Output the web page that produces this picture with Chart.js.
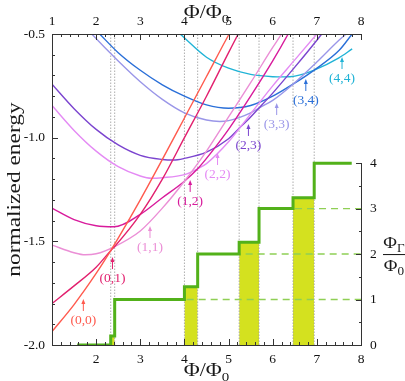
<!DOCTYPE html>
<html>
<head>
<meta charset="utf-8">
<script src="https://cdn.jsdelivr.net/npm/chart.js@4.4.1/dist/chart.umd.min.js"></script>
<style>
  html, body { margin: 0; padding: 0; background: #fff; }
</style>
</head>
<body>
<canvas id="energy-canvas" width="405" height="381"></canvas>
<script>
// energy levels (flux in units of Phi0)
const phi00 = [1, 1.5, 2, 2.33, 2.5, 3, 3.5, 4, 4.5, 5, 5.2];
const en00  = [-1.935, -1.805, -1.655, -1.545, -1.485, -1.3, -1.105, -0.905, -0.705, -0.505, -0.43];
const phi01 = [1, 1.5, 2, 2.33, 2.42, 3, 3.5, 4, 4.5, 5, 5.22, 5.4];
const en01  = [-1.8, -1.715, -1.625, -1.545, -1.525, -1.37, -1.2, -1.0, -0.8, -0.59, -0.5, -0.43];
const phi11 = [1, 1.5, 1.75, 2, 2.42, 3, 3.5, 4, 4.5, 5, 5.5, 6, 6.2, 6.4];
const en11  = [-1.518, -1.555, -1.565, -1.56, -1.525, -1.45, -1.34, -1.21, -1.065, -0.9, -0.735, -0.565, -0.5, -0.43];
const phi12 = [1, 1.5, 2, 2.4, 3, 3.5, 4, 4.3, 4.5, 5, 5.5, 6, 6.35, 6.5];
const en12  = [-1.34, -1.395, -1.425, -1.43, -1.37, -1.29, -1.21, -1.15, -1.1, -0.96, -0.8, -0.63, -0.5, -0.44];
const phi22 = [1, 1.5, 2, 2.5, 3, 3.25, 3.5, 4, 4.3, 4.5, 5, 5.5, 6, 6.5, 7, 7.2];
const en22  = [-0.845, -0.965, -1.065, -1.14, -1.185, -1.196, -1.193, -1.178, -1.15, -1.125, -1.02, -0.885, -0.75, -0.625, -0.5, -0.45];
const phi23 = [1, 1.5, 2, 2.5, 3, 3.5, 3.75, 4, 4.5, 5, 5.24, 5.5, 5.69, 6, 6.5, 7, 7.11, 7.3];
const en23  = [-0.742, -0.86, -0.96, -1.035, -1.085, -1.105, -1.108, -1.1, -1.07, -1.005, -0.955, -0.9, -0.857, -0.785, -0.66, -0.53, -0.5, -0.45];
const phi33 = [1.6, 1.9, 2.5, 3, 3.5, 4, 4.5, 4.8, 5, 5.5, 5.69, 6, 6.46, 7, 7.5, 7.66, 7.8];
const en33  = [-0.43, -0.5, -0.63, -0.73, -0.815, -0.88, -0.915, -0.922, -0.918, -0.88, -0.857, -0.82, -0.742, -0.635, -0.53, -0.5, -0.47];
const phi34 = [1.8, 2.08, 2.5, 3, 3.5, 4, 4.5, 5, 5.5, 6, 6.46, 6.94, 7.5, 7.8];
const en34  = [-0.44, -0.5, -0.59, -0.675, -0.745, -0.8, -0.842, -0.858, -0.845, -0.8, -0.742, -0.674, -0.58, -0.5];
const phi44 = [3.5, 3.9, 4.5, 5, 5.5, 6, 6.25, 6.5, 6.94, 7.5, 7.8];
const en44  = [-0.43, -0.5, -0.612, -0.665, -0.695, -0.706, -0.707, -0.703, -0.674, -0.615, -0.572];

// ground state flux Phi_Gamma / Phi0 (right axis)
const stepPhi = [1.57, 2.33, 2.33, 2.42, 2.42, 4.0, 4.0, 4.3, 4.3, 5.24, 5.24, 5.69, 5.69, 6.46, 6.46, 6.94, 6.94, 7.79];
const stepVal = [0, 0, 0.2, 0.2, 1, 1, 1.28, 1.28, 2, 2, 2.26, 2.26, 3, 3, 3.24, 3.24, 4, 4];

const crossingPhi = [2.33, 2.42, 4.0, 4.3, 5.24, 5.69, 6.46, 6.94];
const bandStart = [2.33, 4.0, 5.24, 6.46];
const bandEnd = [2.42, 4.3, 5.69, 6.94];
const bandHeight = [0.2, 1.28, 2.26, 3.24];
const levelValue = [1, 2, 3];
const levelFrom = [2.42, 4.3, 5.69];

const stateNames = ['(0,0)', '(0,1)', '(1,1)', '(1,2)', '(2,2)', '(2,3)', '(3,3)', '(3,4)', '(4,4)'];
const arrowPhi = [1.71, 2.37, 3.22, 4.13, 4.75, 5.45, 6.09, 6.75, 7.57];
const arrowEn = [-1.778, -1.576, -1.426, -1.204, -1.074, -0.934, -0.833, -0.717, -0.611];

const stateColors = ['#ff5a4e', '#e2206e', '#eb8fd6', '#d81b9c', '#e48af4', '#7b44cf', '#9a96e8', '#2a6fd8', '#20b3d6'];
const SERIF = "'Liberation Serif', 'DejaVu Serif', serif";

function pointsFrom(xs, ys) {
   let pts = [];
   for (let i = 0; i < xs.length; i++) pts.push({ x: xs[i], y: ys[i] });
   return pts;
}

const curves = [[phi00, en00], [phi01, en01], [phi11, en11], [phi12, en12], [phi22, en22],
                [phi23, en23], [phi33, en33], [phi34, en34], [phi44, en44]];

let datasets = [];

curves.forEach((c, i) => {
   datasets.push({
      data: pointsFrom(c[0], c[1]),
      borderColor: stateColors[i], borderWidth: 1.4,
      cubicInterpolationMode: 'monotone',
      xAxisID: 'x', yAxisID: 'y', order: 2
   });
});

// dotted lines at the level crossings
for (const p of crossingPhi) {
   datasets.push({
      data: [{ x: p, y: -2 }, { x: p, y: -0.5 }],
      borderColor: '#999', borderWidth: 0.8, borderDash: [1.5, 1.5],
      xAxisID: 'x', yAxisID: 'y', order: 6
   });
}

// yellow bands where the mixed state is the ground state
bandStart.forEach((s, i) => {
   datasets.push({
      data: [{ x: s, y: bandHeight[i] }, { x: bandEnd[i], y: bandHeight[i] }],
      borderWidth: 0, borderColor: 'rgba(0,0,0,0)',
      backgroundColor: '#d4e11f', fill: 'origin',
      xAxisID: 'x', yAxisID: 'y2', order: 7
   });
});

// dashed guide lines at integer flux
levelValue.forEach((v, i) => {
   datasets.push({
      data: [{ x: levelFrom[i], y: v }, { x: 8, y: v }],
      borderColor: '#8fcf55', borderWidth: 1.4, borderDash: [7, 5],
      xAxisID: 'x', yAxisID: 'y2', order: 4
   });
});

datasets.push({
   data: pointsFrom(stepPhi, stepVal),
   borderColor: '#52b11a', borderWidth: 3, tension: 0,
   borderJoinStyle: 'miter', borderCapStyle: 'butt',
   xAxisID: 'x', yAxisID: 'y2', order: 0
});

function isInt(v) { return Math.abs(v - Math.round(v)) < 1e-6; }

// main text with a lowered small index, optionally widened
function drawSub(ctx, main, sub, x, y, size, sx) {
   ctx.save();
   ctx.font = size + 'px ' + SERIF;
   const wMain = ctx.measureText(main).width;
   ctx.font = Math.round(size * 0.7) + 'px ' + SERIF;
   const wSub = ctx.measureText(sub).width;
   ctx.translate(x, y);
   ctx.scale(sx, 1);
   const x0 = -(wMain + wSub) / 2;
   ctx.textAlign = 'left';
   ctx.textBaseline = 'alphabetic';
   ctx.font = size + 'px ' + SERIF;
   ctx.fillText(main, x0, 0);
   ctx.font = Math.round(size * 0.7) + 'px ' + SERIF;
   ctx.fillText(sub, x0 + wMain, size * 0.25);
   ctx.restore();
}

const framePlugin = {
   id: 'frame',
   afterDatasetsDraw(chart) {
      const { ctx, chartArea: a, scales } = chart;
      const top4 = scales.y2.getPixelForValue(4);
      ctx.save();
      ctx.strokeStyle = '#333';
      ctx.lineWidth = 1;
      ctx.beginPath();
      ctx.moveTo(a.left + 0.5, a.top + 0.5); ctx.lineTo(a.left + 0.5, a.bottom + 0.5);
      ctx.lineTo(a.right + 0.5, a.bottom + 0.5); ctx.lineTo(a.right + 0.5, top4);
      ctx.moveTo(a.left + 0.5, a.top + 0.5); ctx.lineTo(a.right + 0.5, a.top + 0.5);
      // x ticks, top and bottom
      for (let k = 0; k <= 35; k++) {
         const v = 1 + k * 0.2;
         const px = Math.round(scales.x.getPixelForValue(v)) + 0.5;
         const len = isInt(v) ? 6 : 3;
         ctx.moveTo(px, a.bottom); ctx.lineTo(px, a.bottom - len);
         ctx.moveTo(px, a.top); ctx.lineTo(px, a.top + len);
      }
      // left ticks
      for (let k = 0; k <= 15; k++) {
         const v = -2 + k * 0.1;
         const py = Math.round(scales.y.getPixelForValue(v)) + 0.5;
         const len = isInt(v * 2) ? 6 : 3;
         ctx.moveTo(a.left, py); ctx.lineTo(a.left + len, py);
      }
      // right ticks
      for (let k = 0; k <= 8; k++) {
         const v = k * 0.5;
         const py = Math.round(scales.y2.getPixelForValue(v)) + 0.5;
         const len = isInt(v) ? 6 : 3;
         ctx.moveTo(a.right + 1, py); ctx.lineTo(a.right + 1 - len, py);
      }
      ctx.stroke();

      // state labels with small arrows
      ctx.font = '13.5px ' + SERIF;
      ctx.textAlign = 'center';
      ctx.textBaseline = 'middle';
      stateNames.forEach((name, i) => {
         const x = scales.x.getPixelForValue(arrowPhi[i]);
         const y = scales.y.getPixelForValue(arrowEn[i]);
         ctx.strokeStyle = stateColors[i];
         ctx.fillStyle = stateColors[i];
         ctx.lineWidth = 1;
         ctx.beginPath();
         ctx.moveTo(x, y + 12); ctx.lineTo(x, y + 3);
         ctx.stroke();
         ctx.beginPath();
         ctx.moveTo(x, y); ctx.lineTo(x - 2, y + 5); ctx.lineTo(x + 2, y + 5); ctx.closePath();
         ctx.fill();
         ctx.fillText(name, x, y + 21);
      });

      // axis titles
      ctx.fillStyle = '#1a1a1a';
      const cx = (a.left + a.right) / 2;
      drawSub(ctx, '\u03A6/\u03A6', '0', cx, 18, 19, 1.15);
      drawSub(ctx, '\u03A6/\u03A6', '0', cx, 376, 19, 1.15);

      ctx.save();
      ctx.translate(15, (a.top + a.bottom) / 2);
      ctx.rotate(-Math.PI / 2);
      ctx.scale(1.3, 1);
      ctx.font = '18px ' + SERIF;
      ctx.textAlign = 'center';
      ctx.textBaseline = 'middle';
      ctx.fillText('normalized energy', 0, 0);
      ctx.restore();

      const fx = 394;
      const fy = scales.y2.getPixelForValue(2);
      drawSub(ctx, '\u03A6', '\u0393', fx, fy - 6, 17, 1.1);
      drawSub(ctx, '\u03A6', '0', fx, fy + 17, 17, 1.1);
      ctx.strokeStyle = '#111';
      ctx.lineWidth = 1;
      ctx.beginPath();
      ctx.moveTo(fx - 11, fy + 0.5); ctx.lineTo(fx + 11, fy + 0.5);
      ctx.stroke();
      ctx.restore();
   }
};

const tickFont = { family: SERIF, size: 13.5 };

const ctx = document.getElementById('energy-canvas').getContext('2d');
const myChart = new Chart(ctx, {
   type: 'line',
   data: { datasets: datasets },
   options: {
      responsive: false,
      animation: false,
      devicePixelRatio: 1,
      layout: { padding: 0 },
      elements: { point: { radius: 0 }, line: { fill: false } },
      plugins: { legend: { display: false }, tooltip: { enabled: false } },
      scales: {
         x: {
            type: 'linear', position: 'bottom', min: 1, max: 8,
            grid: { display: false, drawTicks: false }, border: { display: false },
            ticks: { stepSize: 1, autoSkip: false, maxRotation: 0, padding: 6, color: '#111', font: tickFont,
                     callback: v => (v === 1 ? '' : v) },
            afterFit: s => { s.height = 36; }
         },
         x2: {
            type: 'linear', position: 'top', min: 1, max: 8,
            grid: { display: false, drawTicks: false }, border: { display: false },
            ticks: { stepSize: 1, autoSkip: false, maxRotation: 0, padding: 4, color: '#111', font: tickFont },
            afterFit: s => { s.height = 34; }
         },
         y: {
            type: 'linear', position: 'left', min: -2, max: -0.5,
            grid: { display: false, drawTicks: false }, border: { display: false },
            ticks: { stepSize: 0.5, autoSkip: false, padding: 7, color: '#111', font: tickFont,
                     callback: v => v.toFixed(1) },
            afterFit: s => { s.width = 52; }
         },
         y2: {
            type: 'linear', position: 'right', min: 0, max: 6.84,
            grid: { display: false, drawTicks: false }, border: { display: false },
            ticks: { autoSkip: false, padding: 9, color: '#111', font: tickFont },
            afterBuildTicks: s => { s.ticks = [0, 1, 2, 3, 4].map(v => ({ value: v })); },
            afterFit: s => { s.width = 44; }
         }
      }
   },
   plugins: [framePlugin]
});
</script>
</body>
</html>
